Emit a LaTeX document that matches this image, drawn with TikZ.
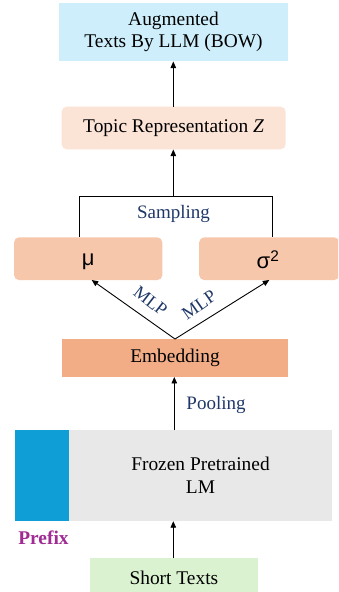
\documentclass[tikz,border=0pt]{standalone}
\usepackage{fontspec}
\setmainfont{Liberation Serif}
\newfontfamily\symfont{Liberation Sans}
\usetikzlibrary{arrows.meta,calc}
\definecolor{augblue}{HTML}{CDEEFA}
\definecolor{topicc}{HTML}{FBE3D6}
\definecolor{musig}{HTML}{F7C7AC}
\definecolor{embc}{HTML}{F3AD86}
\definecolor{lmgray}{HTML}{E8E8E8}
\definecolor{prefixblue}{HTML}{0F9ED6}
\definecolor{shortg}{HTML}{DAF2D0}
\definecolor{navy}{HTML}{1F3868}
\definecolor{purp}{HTML}{A02B93}
\tikzset{
  box/.style={inner sep=0pt, align=center, font=\fontsize{19.4}{22.5}\selectfont},
  rbox/.style={box, rounded corners=5pt},
  lab/.style={text=navy, inner sep=1pt, font=\fontsize{19}{22}\selectfont},
  mlplab/.style={text=navy, inner sep=0pt, font=\fontsize{18}{20}\selectfont},
  conn/.style={line width=0.9pt, -{Triangle[width=5.5pt,length=6.5pt]}},
  plainline/.style={line width=0.9pt},
}
\begin{document}
\begin{tikzpicture}[x=1pt,y=-1pt]
\useasboundingbox (0,0) rectangle (338,592);
% boxes
\node[box, fill=augblue, minimum width=229.6pt, minimum height=58.6pt] (aug) at (173.5,32) {Augmented\\Texts By LLM (BOW)};
\node[rbox, fill=topicc, minimum width=224pt, minimum height=42.6pt] (topic) at (173.7,128) {Topic Representation \textit{Z}};
\node[rbox, fill=musig, minimum width=148.3pt, minimum height=42.7pt] (mu) at (88.2,258.7) {};
\node[font=\symfont\fontsize{22}{24}\selectfont, inner sep=0pt] (mutext) at (88.3,261.7) {μ};
\begin{scope}
\clip (0,0) rectangle (338,592);
\node[rbox, fill=musig, minimum width=140pt, minimum height=42.7pt, anchor=west] (sig) at (199,258.7) {};
\node[box, fill=shortg, minimum width=167.7pt, minimum height=40pt] (short) at (173.85,578) {Short Texts};
\end{scope}
\node[font=\symfont\fontsize{22}{24}\selectfont, inner sep=0pt] (sigtext) at (268,259.5) {σ\textsuperscript{2}};
\node[box, fill=embc, minimum width=226.6pt, minimum height=37.7pt] (emb) at (175,357.9) {Embedding};
\node[box, fill=lmgray, minimum width=262.4pt, minimum height=91pt] (lm) at (200.5,475.5) {Frozen Pretrained\\LM};
\node[box, fill=prefixblue, minimum width=54.3pt, minimum height=91pt] (prefix) at (42.15,475.5) {};
\node[text=purp, inner sep=0pt, font=\bfseries\fontsize{19.4}{22}\selectfont] (prefixlab) at (43.5,538) {Prefix};
% coordinates
\coordinate (brc) at (173.3,196.5);
\coordinate (brl) at (79.3,196.5);
\coordinate (brr) at (272.7,196.5);
\coordinate (embtop) at (175,339);
\coordinate (mubot) at (91.7,280);
\coordinate (sigbot) at (269.3,280);
% connectors
\draw[conn] (topic.north -| 173.3,0) -- (aug.south -| 173.3,0);
\draw[conn] (brc) -- (topic.south -| brc);
\draw[plainline] (mu.north -| brl) -- (brl) -- (brr) -- (sig.north -| brr);
\draw[conn] (embtop) -- (mubot);
\draw[conn] (embtop) -- (sigbot);
\draw[conn] (lm.north -| 174.3,0) -- (emb.south -| 174.3,0);
\draw[conn] (short.north -| 173.3,0) -- (lm.south -| 173.3,0);
% labels
\node[lab] (samp) at (173.5,214) {Sampling};
\node[lab] (pool) at (216,405) {Pooling};
\node[mlplab, rotate=-38] (mlp1) at (150.5,301) {MLP};
\node[mlplab, rotate=35] (mlp2) at (199,305) {MLP};
\end{tikzpicture}
\end{document}
